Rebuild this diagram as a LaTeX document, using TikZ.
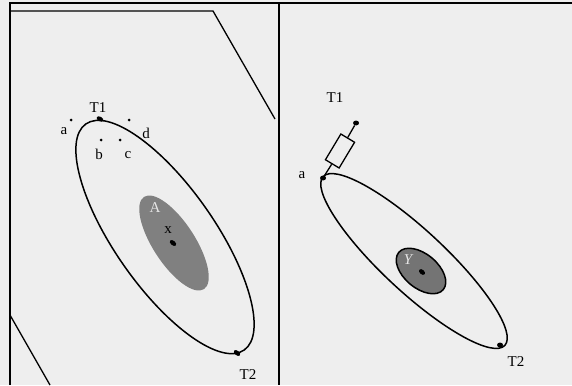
\documentclass[tikz,border=0pt]{standalone}
\usepackage{fontspec}
\setmainfont{Liberation Serif}
\usetikzlibrary{positioning,shapes.geometric}
\definecolor{paper}{HTML}{EEEEEE}
\definecolor{coregray}{HTML}{808080}
\definecolor{coredark}{HTML}{747474}
\definecolor{pale}{HTML}{E6E6E6}

\begin{document}
\begin{tikzpicture}[
  x=1pt, y=-1pt,
  frame/.style={line width=1.9pt},
  edge/.style={line width=1.3pt},
  loop/.style={line width=1.5pt},
  spot/.style={circle, fill=black, inner sep=0pt, minimum size=3pt},
  tipdot/.style={ellipse, fill=black, inner sep=0pt, minimum width=7.5pt, minimum height=4.5pt},
  lbl/.style={font=\fontsize{15}{17}\selectfont, inner sep=0pt},
  resistor/.style={rectangle, draw, line width=1.3pt, fill=paper, minimum width=30pt, minimum height=16pt, inner sep=0pt}
]
\useasboundingbox[fill=paper] (0,0) rectangle (572,385);

% frame and panels
\draw[frame] (10,385) -- (10,3) -- (572,3);
\draw[frame] (279,3) -- (279,385);
\draw[edge] (10,11) -- (213,11) -- (275,119);
\draw[edge] (10,315) -- (50,385);

% left panel
\fill[coregray, rotate around={-57:(174,243)}] (174,243) ellipse [x radius=55, y radius=21];
\draw[loop, rotate around={-55:(165,237)}] (165,237) ellipse [x radius=138, y radius=50];

\node[tipdot, rotate=-30] (lT1dot) at (100,119) {};
\node[tipdot, rotate=-40] (lT2dot) at (237,353) {};
\node[tipdot, rotate=-40] (xdot) at (173,243) {};
\node[spot] (adot) at (71,120) {};
\node[spot] (ddot) at (129,120) {};
\node[spot] (bdot) at (101,140) {};
\node[spot] (cdot) at (120,140) {};

\node[lbl] (lT1) at (98,108) {T1};
\node[lbl] (la) at (64,131) {a};
\node[lbl] (ld) at (146,133) {d};
\node[lbl] (lb) at (99,154) {b};
\node[lbl] (lc) at (128,155) {c};
\node[lbl, text=pale] (lA) at (155,208) {A};
\node[lbl] (lx) at (168,230) {x};
\node[lbl] (lT2) at (248,375) {T2};

% right panel
\draw[loop, rotate around={-42.9:(414,261)}] (414,261) ellipse [x radius=124, y radius=31];
\draw[loop, fill=coredark, rotate around={-40:(421,271)}] (421,271) ellipse [x radius=29, y radius=17];

\node[tipdot, minimum width=6pt, minimum height=5pt] (rT1dot) at (356,123) {};
\node[tipdot, minimum width=6pt, minimum height=5pt] (radot) at (323,178) {};
\node[tipdot, minimum width=6pt, minimum height=5pt] (rT2dot) at (500,345) {};
\node[tipdot, rotate=-40, minimum width=7pt] (ydot) at (422,272) {};
\node[resistor, rotate=59] (rbox) at (340,151) {};
\draw[edge] (radot) -- (rbox);
\draw[edge] (rbox) -- (rT1dot);

\node[lbl] (rT1) at (335,98) {T1};
\node[lbl] (ra) at (302,175) {a};
\node[lbl, text=pale, font=\fontsize{15}{17}\selectfont\itshape] (rY) at (408,260) {Y};
\node[lbl] (rT2) at (516,362) {T2};
\end{tikzpicture}
\end{document}
